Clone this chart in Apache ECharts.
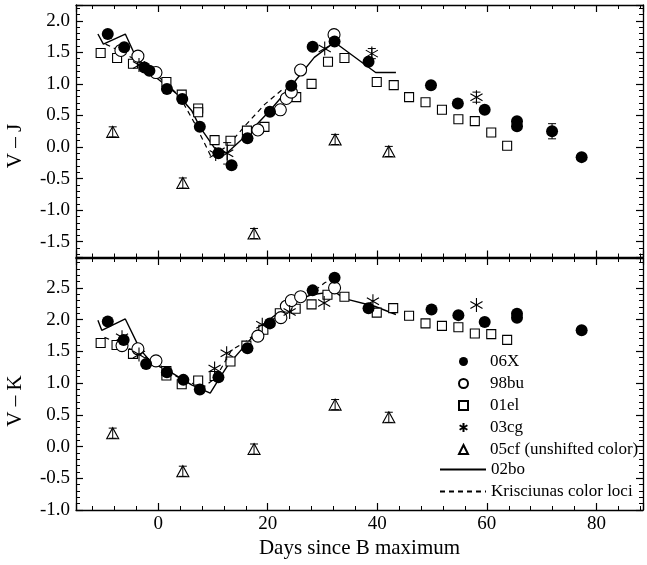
<!DOCTYPE html>
<html>
<head>
<meta charset="utf-8">
<script src="https://cdn.jsdelivr.net/npm/echarts@6/dist/echarts.min.js"></script>
<style>html,body{margin:0;padding:0;background:#fff}#c{width:647px;height:565px}</style>
</head>
<body>
<div id="c"></div>
<script>
// ---------- DATA (days since B max, colour) ----------
// V - J panel
const VJ_06X = [[-9.2,1.79],[-6.2,1.58],[-2.5,1.26],[-1.6,1.21],[1.6,0.92],[4.4,0.76],[7.6,0.32],[11.0,-0.10],[13.4,-0.29],[16.3,0.14],[20.4,0.56],[24.3,0.97],[28.2,1.59],[32.2,1.67],[38.4,1.35],[49.8,0.98],[54.7,0.69],[59.6,0.59],[65.5,0.41],[65.5,0.33],[71.9,0.25],[77.3,-0.16]];
const VJ_98bu = [[-6.8,1.53],[-3.7,1.44],[-0.4,1.18],[18.2,0.27],[22.3,0.59],[23.4,0.77],[24.3,0.87],[26.0,1.22],[32.1,1.78]];
const VJ_01el = [[-10.5,1.49],[-7.5,1.41],[-4.6,1.32],[1.5,1.03],[4.3,0.83],[7.3,0.61],[7.3,0.55],[10.3,0.11],[13.2,0.10],[16.2,0.26],[19.4,0.32],[25.2,0.79],[28.0,1.00],[31.0,1.35],[34.0,1.41],[39.9,1.03],[43.0,0.98],[45.8,0.79],[48.8,0.71],[51.8,0.59],[54.8,0.44],[57.8,0.41],[60.8,0.23],[63.7,0.02]];
const VJ_03cg = [[-3.5,1.30],[10.5,-0.11],[12.6,-0.10],[30.4,1.56],[39.0,1.48],[58.1,0.79]];
const VJ_05cf = [[-8.3,0.24],[4.5,-0.57],[17.5,-1.37],[32.3,0.12],[42.1,-0.07]];
const VJ_02bo = [[-11.0,1.79],[-10.0,1.63],[-6.0,1.79],[-4.2,1.45],[-0.8,1.13],[3.7,0.82],[6.1,0.58],[7.6,0.32],[10.4,-0.03],[12.5,-0.10],[16.4,0.21],[20.4,0.58],[24.3,0.97],[28.5,1.42],[32.2,1.66],[39.7,1.18],[43.4,1.18]];
const VJ_KRIS = [[-9.6,1.63],[-7.2,1.53],[-3.5,1.35],[0.0,1.12],[3.0,0.88],[4.3,0.74],[6.7,0.37],[9.7,-0.16],[12.8,0.03],[16.0,0.35],[19.5,0.68],[22.8,0.92]];
// error bars [day, colour, error]
const VJ_ERR = [[-8.3,0.24,0.08],[4.5,-0.57,0.08],[17.5,-1.37,0.08],[32.3,0.12,0.08],[42.1,-0.07,0.08],[71.9,0.25,0.12],[12.6,-0.10,0.17],[39.0,1.48,0.08],[58.1,0.79,0.08]];

// V - K panel
const VK_06X = [[-9.2,1.97],[-6.3,1.68],[-2.2,1.30],[1.6,1.17],[4.6,1.05],[7.6,0.90],[11.0,1.09],[16.3,1.55],[20.4,1.94],[28.2,2.46],[32.2,2.66],[38.4,2.18],[49.9,2.16],[54.8,2.07],[59.6,1.96],[65.5,2.09],[65.5,2.03],[77.3,1.83]];
const VK_98bu = [[-6.6,1.59],[-3.7,1.54],[-0.4,1.35],[18.2,1.74],[22.4,2.03],[23.4,2.21],[24.3,2.30],[26.0,2.36],[32.2,2.50]];
const VK_01el = [[-10.5,1.63],[-7.6,1.60],[-4.6,1.46],[1.5,1.19],[1.5,1.12],[4.3,0.98],[7.3,1.04],[10.3,1.11],[13.2,1.34],[16.1,1.59],[19.2,1.84],[22.2,2.10],[25.1,2.17],[28.0,2.24],[30.9,2.39],[34.0,2.36],[39.9,2.11],[42.9,2.18],[45.8,2.06],[48.8,1.94],[51.8,1.90],[54.8,1.88],[57.8,1.78],[60.8,1.77],[63.7,1.68]];
const VK_03cg = [[-6.6,1.72],[-3.5,1.45],[10.3,1.23],[12.5,1.47],[19.0,1.92],[24.0,2.12],[30.3,2.26],[39.2,2.29],[58.1,2.23]];
const VK_05cf = [[-8.3,0.21],[4.5,-0.39],[17.5,-0.04],[32.3,0.66],[42.1,0.46]];
const VK_02bo = [[-11.0,1.99],[-10.3,1.83],[-6.0,2.01],[-3.3,1.53],[-1.2,1.32],[2.5,1.16],[6.1,0.97],[9.5,0.84],[11.0,1.05],[12.8,1.29],[19.5,1.95],[24.3,2.26],[27.9,2.39],[32.2,2.44],[34.0,2.33],[39.5,2.21],[43.4,2.08]];
const VK_KRIS = [[-9.8,1.72],[-7.0,1.62],[-3.5,1.46],[0.0,1.30],[3.0,1.12],[6.0,1.00],[8.5,0.95],[10.5,1.08],[13.4,1.52],[16.0,1.65],[19.0,1.88],[22.0,2.07],[25.0,2.25],[28.0,2.42],[30.4,2.58],[32.2,2.66]];
const VK_ERR = [[-8.3,0.21,0.08],[4.5,-0.39,0.08],[17.5,-0.04,0.08],[32.3,0.66,0.08],[42.1,0.46,0.08]];

const NAMES = ['06X','98bu','01el','03cg','05cf (unshifted color)','02bo','Krisciunas color loci'];
const X_TICKS_STEP = 20;
const Y_TICKS_STEP = 0.5;

// ---------- CHART ----------
const FONT = '"Liberation Serif","Times New Roman",serif';
const ASTER = 'path://M0,-10L0,10M-8.66,-5L8.66,5M-8.66,5L8.66,-5';
const chart = echarts.init(document.getElementById('c'), null, {renderer:'canvas'});

const axLine = {show:true, onZero:false, lineStyle:{color:'#000', width:1.3}};
const tickIn = {show:true, inside:true, length:7, lineStyle:{color:'#000', width:1.2}};
const minorIn = {show:true, splitNumber:5, length:4, lineStyle:{color:'#000', width:1}};
const xFmt = v => (Math.abs(v % X_TICKS_STEP) < 1e-6 ? String(v) : '');
const yFmt = v => (Math.abs(v / Y_TICKS_STEP - Math.round(v / Y_TICKS_STEP)) < 1e-6 ? v.toFixed(1) : '');

function xAx(grid, pos, labels) {
  return {type:'value', gridIndex:grid, position:pos, min:-15, max:88.5, splitNumber:5,
    axisLine:axLine, axisTick:tickIn, minorTick:minorIn, splitLine:{show:false},
    axisLabel:{show:labels, formatter:xFmt, color:'#000', fontFamily:FONT, fontSize:19, margin:5,
      showMinLabel:false, showMaxLabel:false},
    name: labels ? 'Days since B maximum' : '', nameLocation:'middle', nameGap:28,
    nameTextStyle:{color:'#000', fontFamily:FONT, fontSize:21}};
}
function yAx(grid, pos, labels, min, max, extra) {
  return Object.assign({type:'value', gridIndex:grid, position:pos, min:min, max:max,
    axisLine:axLine, axisTick:tickIn, minorTick:minorIn, splitLine:{show:false},
    axisLabel:{show:labels, formatter:yFmt, color:'#000', fontFamily:FONT, fontSize:19, margin:6}}, extra);
}

function errSeries(data, xi, yi) {
  return {type:'custom', xAxisIndex:xi, yAxisIndex:yi, data:data, z:5, silent:true,
    encode:{x:0, y:1},
    renderItem:function(params, api){
      const x = api.value(0), y = api.value(1), e = api.value(2);
      const t = api.coord([x, y + e]), b = api.coord([x, y - e]);
      const st = {stroke:'#000', lineWidth:1};
      return {type:'group', children:[
        {type:'line', shape:{x1:t[0], y1:t[1], x2:b[0], y2:b[1]}, style:st},
        {type:'line', shape:{x1:t[0]-4, y1:t[1], x2:t[0]+4, y2:t[1]}, style:st},
        {type:'line', shape:{x1:b[0]-4, y1:b[1], x2:b[0]+4, y2:b[1]}, style:st}
      ]};
    }};
}

function panelSeries(xi, yi, d) {
  return [
    {name:NAMES[5], type:'line', xAxisIndex:xi, yAxisIndex:yi, data:d.bo, symbol:'none', z:3,
      lineStyle:{color:'#000', width:1.4}, itemStyle:{color:'#000'}},
    {name:NAMES[6], type:'line', xAxisIndex:xi, yAxisIndex:yi, data:d.kr, symbol:'none', z:3,
      lineStyle:{color:'#000', width:1.2, type:[5,4]}, itemStyle:{color:'#000'}},
    {name:NAMES[2], type:'scatter', xAxisIndex:xi, yAxisIndex:yi, data:d.el, symbol:'rect', symbolSize:9, z:4,
      itemStyle:{color:'#fff', borderColor:'#000', borderWidth:1.1, opacity:1}},
    {name:NAMES[1], type:'scatter', xAxisIndex:xi, yAxisIndex:yi, data:d.bu, symbol:'circle', symbolSize:12, z:4,
      itemStyle:{color:'#fff', borderColor:'#000', borderWidth:1.1, opacity:1}},
    {name:NAMES[0], type:'scatter', xAxisIndex:xi, yAxisIndex:yi, data:d.x, symbol:'circle', symbolSize:12, z:4,
      itemStyle:{color:'#000', opacity:1}},
    {name:NAMES[3], type:'scatter', xAxisIndex:xi, yAxisIndex:yi, data:d.cg, symbol:ASTER, symbolSize:14, symbolKeepAspect:true, z:6,
      itemStyle:{color:'rgba(0,0,0,0)', borderColor:'#000', borderWidth:1.1, opacity:1}},
    {name:NAMES[4], type:'scatter', xAxisIndex:xi, yAxisIndex:yi, data:d.cf, symbol:'triangle', symbolSize:[12,11], z:6,
      itemStyle:{color:'rgba(255,255,255,0)', borderColor:'#000', borderWidth:1.1, opacity:1}},
    errSeries(d.err, xi, yi)
  ];
}

const option = {
  animation:false,
  backgroundColor:'#fff',
  grid:[
    {left:76, top:5, width:567, height:252.5},
    {left:76, top:258, width:567, height:252}
  ],
  xAxis:[xAx(0,'bottom',false), xAx(0,'top',false), xAx(1,'bottom',true), xAx(1,'top',false)],
  yAxis:[
    yAx(0,'left',true,-1.75,2.25,{splitNumber:8}),
    yAx(0,'right',false,-1.75,2.25,{splitNumber:8}),
    yAx(1,'left',true,-1.0,2.97,{interval:Y_TICKS_STEP}),
    yAx(1,'right',false,-1.0,2.97,{interval:Y_TICKS_STEP})
  ],
  legend:[
    {data:NAMES.slice(0,5), orient:'vertical', left:453, top:348, itemWidth:9, itemHeight:9, itemGap:5,
      selectedMode:false, textStyle:{color:'#000', fontFamily:FONT, fontSize:17, padding:[0,0,0,17]}},
    {data:NAMES.slice(5), orient:'vertical', left:434, top:456, itemWidth:46, itemHeight:11, itemGap:5,
      selectedMode:false, itemStyle:{color:'rgba(0,0,0,0)', borderWidth:0, opacity:0},
      textStyle:{color:'#000', fontFamily:FONT, fontSize:17}}
  ],
  graphic:[
    {type:'text', x:15, y:146, rotation:Math.PI/2, style:{text:'V – J', font:'21px '+FONT, fill:'#000', align:'center', verticalAlign:'middle'}},
    {type:'text', x:15, y:401, rotation:Math.PI/2, style:{text:'V – K', font:'21px '+FONT, fill:'#000', align:'center', verticalAlign:'middle'}}
  ],
  series:[].concat(
    panelSeries(0, 0, {x:VJ_06X, bu:VJ_98bu, el:VJ_01el, cg:VJ_03cg, cf:VJ_05cf, bo:VJ_02bo, kr:VJ_KRIS, err:VJ_ERR}),
    panelSeries(2, 2, {x:VK_06X, bu:VK_98bu, el:VK_01el, cg:VK_03cg, cf:VK_05cf, bo:VK_02bo, kr:VK_KRIS, err:VK_ERR})
  )
};
chart.setOption(option);
</script>
</body>
</html>
